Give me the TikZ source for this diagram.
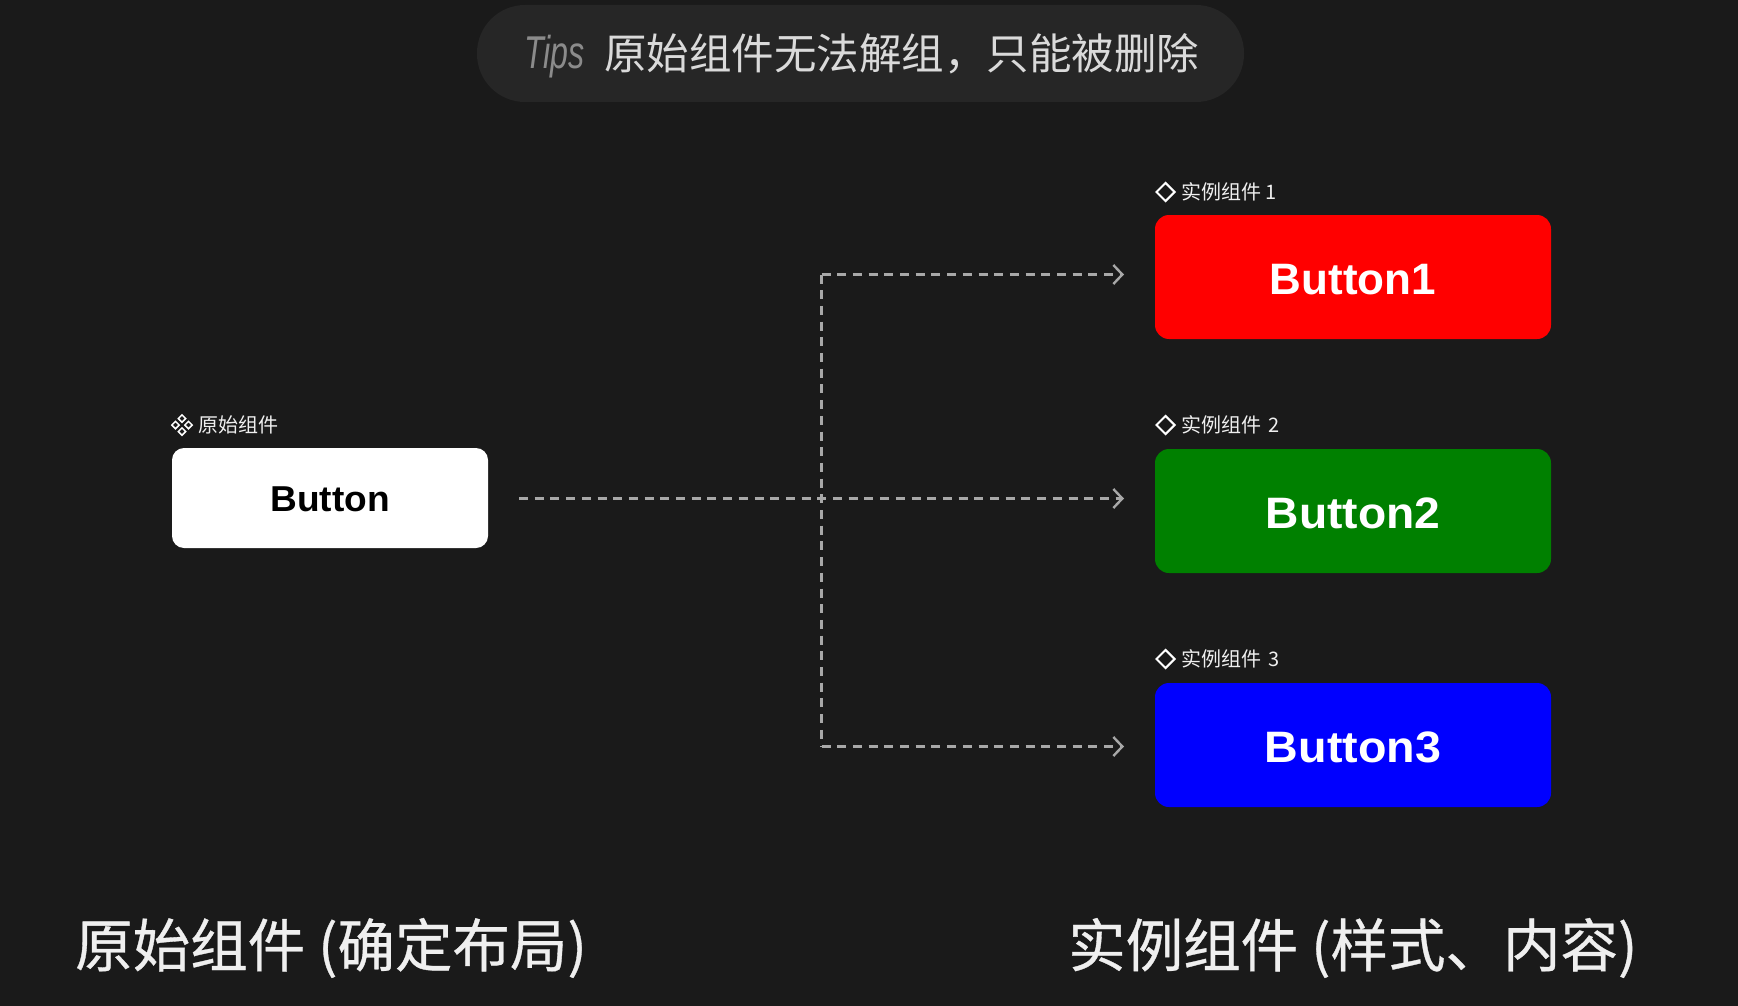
\documentclass[tikz,border=0pt]{standalone}
\usepackage{fontspec}
\usetikzlibrary{arrows.meta,shapes.geometric}
\setmainfont{Liberation Sans}
\newfontfamily\cjk{Noto Sans CJK SC}
\newfontfamily\cjkmed[FakeBold=0.6]{Noto Sans CJK SC}
\newfontfamily\tipsfont[FakeStretch=0.7]{Liberation Sans}
\definecolor{bg}{HTML}{1A1A1A}
\definecolor{pill}{HTML}{262626}
\definecolor{dash}{HTML}{A8A8A8}
\definecolor{labelc}{HTML}{EFEFEF}
\tikzset{
  x=1pt,y=-1pt,
  btn/.style={rectangle,rounded corners=14pt,inner sep=0pt,minimum width=396pt,minimum height=124pt,text=white,text height=35pt,text depth=0pt,font=\fontsize{44}{48}\selectfont\bfseries},
  smalllabel/.style={anchor=west,inner sep=0pt,text=labelc,font=\fontsize{20}{24}\selectfont\cjk},
  biglabel/.style={anchor=west,inner sep=0pt,text=labelc,font=\fontsize{57.5}{64}\selectfont\cjkmed},
  inst/.style={diamond,draw=white,line width=2pt,inner sep=0pt,minimum width=19pt,minimum height=19pt},
  mini/.style={diamond,draw=white,line width=1.5pt,inner sep=0pt,minimum width=8pt,minimum height=8pt},
  link/.style={draw=dash,line width=2.4pt,dash pattern=on 9pt off 6.7pt},
  tiplink/.style={link,-{Straight Barb[length=9pt,width=19pt,line width=2.4pt]}},
}
\begin{document}
\begin{tikzpicture}
\useasboundingbox (0,0) rectangle (1738,1006);
\fill[bg] (0,0) rectangle (1738,1006);
% top pill
\node[rectangle,fill=pill,rounded corners=48pt,inner sep=0pt,minimum width=767pt,minimum height=97pt] (pill) at (860.5,53.5) {};
\node[anchor=west,inner sep=0pt,text=dash!80!bg,font=\fontsize{46}{50}\selectfont\tipsfont\itshape] (tips) at (524,57) {Tips};
\node[anchor=west,inner sep=0pt,text=labelc!90!bg,font=\fontsize{42.5}{50}\selectfont\cjk] (tiptext) at (604,53.5) {原始组件无法解组，只能被删除};
% source
\node[mini] (m1) at (182,418.5) {};
\node[mini] (m2) at (182,431.5) {};
\node[mini] (m3) at (175.5,425) {};
\node[mini] (m4) at (188.5,425) {};
\node[smalllabel] (srclabel) at (198,425) {原始组件};
\node[btn,minimum width=316pt,minimum height=100pt,fill=white,text=black,font=\fontsize{36}{40}\selectfont\bfseries,text height=27pt,rounded corners=12pt] (src) at (330,498) {\scalebox{1.03}[1]{Button}};
% instances
\node[inst] (d1) at (1165.5,192) {};
\node[smalllabel] (l1) at (1181,192) {实例组件 1};
\node[btn,fill=red] (b1) at (1353,277) {Button1};
\node[inst] (d2) at (1165.5,425) {};
\node[smalllabel] (l2) at (1181,425) {实例组件\hspace{7pt}2};
\node[btn,fill=green!50!black] (b2) at (1353,511) {\scalebox{1.05}[1]{Button2}};
\node[inst] (d3) at (1165.5,659) {};
\node[smalllabel] (l3) at (1181,659) {实例组件\hspace{7pt}3};
\node[btn,fill=blue] (b3) at (1353,745) {\scalebox{1.06}[1]{Button3}};
% connectors
\coordinate (start) at (519,498.5);
\coordinate (branchtop) at (821.5,274.5);
\coordinate (branchbot) at (821.5,746.5);
\coordinate (e1) at (1124,274.5);
\coordinate (e2) at (1124,498.5);
\coordinate (e3) at (1124,746.5);
\draw[tiplink] (start) -- (e2);
\draw[tiplink] (branchtop) -- (e1);
\draw[tiplink] (branchbot) -- (e3);
\draw[link] (branchtop) -- (branchbot);
% bottom
\node[biglabel] (bl) at (75,948) {原始组件 (确定布局)};
\node[biglabel] (br) at (1068,948) {实例组件 (样式、内容)};
\end{tikzpicture}
\end{document}
